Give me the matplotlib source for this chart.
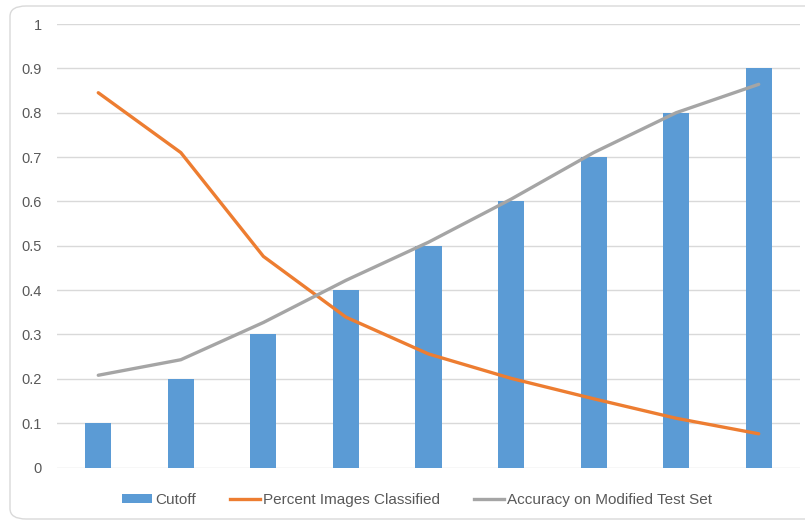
import matplotlib
matplotlib.use("Agg")
import matplotlib.pyplot as plt
from matplotlib.patches import FancyBboxPatch, Patch
from matplotlib.lines import Line2D

plt.rcParams['font.family'] = ['Liberation Sans Narrow', 'Liberation Sans', 'DejaVu Sans']

# Data
steps = [1, 2, 3, 4, 5, 6, 7, 8, 9]
cutoff = [0.1, 0.2, 0.3, 0.4, 0.5, 0.6, 0.7, 0.8, 0.9]
percent_classified = [0.845, 0.710, 0.476, 0.339, 0.256, 0.201, 0.155, 0.111, 0.076]
accuracy_modified = [0.208, 0.243, 0.327, 0.422, 0.508, 0.605, 0.710, 0.800, 0.864]
yticks = [0, 0.1, 0.2, 0.3, 0.4, 0.5, 0.6, 0.7, 0.8, 0.9, 1]
ytick_labels = ['0', '0.1', '0.2', '0.3', '0.4', '0.5', '0.6', '0.7', '0.8', '0.9', '1']

BLUE = '#5B9BD5'
ORANGE = '#ED7D31'
GRAY = '#A5A5A5'
GRID = '#D9D9D9'
TEXT = '#595959'

W, H = 805, 521
fig = plt.figure(figsize=(W / 100, H / 100), dpi=100)

# Rounded chart frame
frame = FancyBboxPatch((10 / W, 2 / H), 820 / W, 513 / H,
                       boxstyle="round,pad=0,rounding_size=0.02",
                       transform=fig.transFigure, facecolor='white',
                       edgecolor=GRID, linewidth=1.0, zorder=-5)
fig.patches.append(frame)

ax = fig.add_axes([57 / W, 1 - 467.5 / H, (800 - 57) / W, (467.5 - 24) / H])
ax.set_zorder(2)
ax.set_facecolor('none')

ax.bar(steps, cutoff, width=0.315, color=BLUE, zorder=2)
ax.plot(steps, percent_classified, color=ORANGE, linewidth=2.4,
        solid_capstyle='round', solid_joinstyle='round', zorder=3)
ax.plot(steps, accuracy_modified, color=GRAY, linewidth=2.4,
        solid_capstyle='round', solid_joinstyle='round', zorder=3)

ax.set_xlim(0.5, 9.5)
ax.set_ylim(0, 1)
ax.set_yticks(yticks)
ax.set_yticklabels(ytick_labels)
ax.set_xticks([])
ax.tick_params(axis='y', length=0, pad=11, labelsize=10.5, labelcolor=TEXT)
ax.yaxis.grid(True, color=GRID, linewidth=1.0, zorder=0)
ax.set_axisbelow(True)
for s in ax.spines.values():
    s.set_visible(False)

handles = [
    Patch(facecolor=BLUE, edgecolor='none'),
    Line2D([], [], color=ORANGE, linewidth=2.4),
    Line2D([], [], color=GRAY, linewidth=2.4),
]
labels = ['Cutoff', 'Percent Images Classified', 'Accuracy on Modified Test Set']
leg = fig.legend(handles, labels, loc='center', bbox_to_anchor=(417 / W, 1 - 500 / H),
                 ncol=3, frameon=False, fontsize=11, handlelength=2.0,
                 handleheight=0.45, handletextpad=0.2, columnspacing=2.2,
                 labelcolor=TEXT)

fig.savefig('out.png', dpi=100, facecolor='white')
